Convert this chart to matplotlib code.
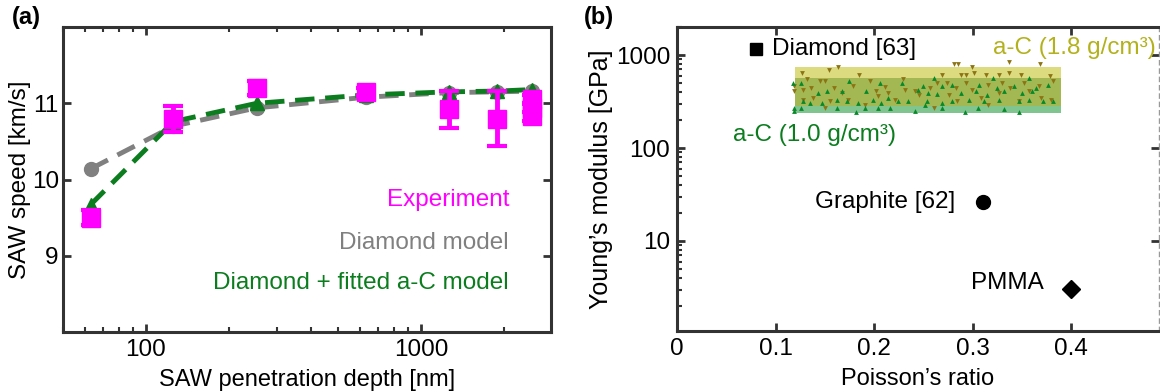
import numpy as np
import matplotlib
matplotlib.use("Agg")
from matplotlib import pyplot as plt

plt.rcParams['font.family'] = ['Liberation Sans', 'DejaVu Sans']
plt.rcParams['font.size'] = 16

# ---- panel (a): SAW speed vs penetration depth ----
depth = [63, 126, 253, 632, 1265, 1897, 2530]
v_diamond = [10.14, 10.70, 10.94, 11.08, 11.14, 11.15, 11.16]
v_fitted = [9.67, 10.76, 11.00, 11.11, 11.15, 11.16, 11.18]

exp_depth = [63, 126, 253, 632, 1265, 1897, 2530, 2530, 2530]
exp_speed = [9.50, 10.80, 11.20, 11.15, 10.92, 10.80, 11.05, 10.94, 10.83]
exp_err = [0.10, 0.17, 0.09, 0.05, 0.24, 0.36, 0.06, 0.06, 0.06]

# ---- panel (b): Young's modulus vs Poisson's ratio ----
ref_names = ['Diamond [63]', 'Graphite [62]', 'PMMA']
ref_nu = [0.08, 0.31, 0.40]
ref_E = [1150, 26, 3.05]
ref_markers = ['s', 'o', 'D']

band_nu = [0.12, 0.39]
band_hi = [282, 743]   # a-C 1.8 g/cm3 range of E
band_lo = [238, 566]   # a-C 1.0 g/cm3 range of E

# a-C 1.8 g/cm3 samples (down triangles)
hi_nu = [0.163, 0.154, 0.127, 0.185, 0.132, 0.145, 0.150, 0.119, 0.128, 0.136,
         0.159, 0.167, 0.179, 0.196, 0.202, 0.211, 0.214, 0.229, 0.231, 0.241,
         0.128, 0.138, 0.155, 0.174, 0.191, 0.204, 0.150, 0.221, 0.246, 0.119,
         0.281, 0.285, 0.299, 0.337, 0.368, 0.301, 0.288, 0.293, 0.314, 0.327,
         0.337, 0.349, 0.378, 0.269, 0.264, 0.274, 0.283, 0.293, 0.299, 0.316,
         0.330, 0.338, 0.352, 0.367, 0.381, 0.257, 0.276, 0.308, 0.327, 0.357,
         0.369, 0.379, 0.261, 0.316, 0.284, 0.347]
hi_E = [738, 684, 641, 605, 557, 521, 521, 460, 424, 442,
        442, 391, 460, 521, 407, 449, 391, 557, 424, 407,
        331, 345, 318, 331, 292, 360, 269, 331, 375, 407,
        800, 800, 738, 841, 800, 641, 605, 605, 615, 605,
        641, 605, 590, 605, 500, 500, 442, 500, 424, 480,
        500, 442, 500, 460, 521, 442, 375, 345, 391, 407,
        345, 331, 269, 292, 318, 318]

# a-C 1.0 g/cm3 samples (up triangles)
lo_nu = [0.118, 0.126, 0.175, 0.206, 0.228, 0.143, 0.152, 0.167, 0.192, 0.128,
         0.135, 0.147, 0.162, 0.172, 0.184, 0.199, 0.207, 0.214, 0.224, 0.234,
         0.119, 0.126, 0.162, 0.191, 0.204, 0.216, 0.119, 0.182, 0.241, 0.245,
         0.261, 0.321, 0.357, 0.250, 0.269, 0.279, 0.306, 0.325, 0.342, 0.364,
         0.376, 0.255, 0.264, 0.288, 0.303, 0.315, 0.332, 0.350, 0.360, 0.254,
         0.269, 0.279, 0.296, 0.311, 0.327, 0.347, 0.357, 0.371, 0.382, 0.269,
         0.292, 0.305, 0.332, 0.347, 0.252]
lo_E = [500, 500, 530, 500, 500, 391, 407, 407, 407, 318,
        305, 305, 331, 318, 305, 331, 305, 345, 318, 318,
        269, 269, 269, 269, 269, 269, 248, 244, 252, 424,
        566, 566, 566, 460, 460, 480, 480, 442, 460, 442,
        480, 391, 381, 391, 407, 375, 407, 391, 407, 318,
        305, 318, 331, 318, 331, 318, 331, 318, 318, 269,
        244, 269, 265, 244, 292]

MAGENTA = '#ff00ff'
GRAY = '#808080'
GREEN = '#0b7d1e'
OLIVE = '#b3b11c'
SPINE = '#333333'


def style_axes(ax):
    for s in ax.spines.values():
        s.set_linewidth(2.2)
        s.set_color(SPINE)
    ax.tick_params(which='both', direction='in', top=True, right=True,
                   color=SPINE, labelsize=17.5, pad=5)
    ax.tick_params(which='major', length=6, width=2)
    ax.tick_params(which='minor', length=3.5, width=1.5)


fig = plt.figure(figsize=(11.6, 3.92), dpi=100)

# ---------- (a) ----------
ax1 = fig.add_axes([0.0543, 0.153, 0.4207, 0.778])
ax1.plot(depth, v_diamond, color=GRAY, lw=3.5, dashes=(4, 2.2),
         marker='o', ms=10, zorder=2)
ax1.plot(depth, v_fitted, color=GREEN, lw=3.5, dashes=(4, 2.2),
         marker='^', ms=10, zorder=3)
ax1.errorbar(exp_depth, exp_speed, yerr=exp_err, fmt='s', color=MAGENTA,
             ms=12.5, elinewidth=3.5, capsize=7, capthick=3, zorder=4)
ax1.set_xscale('log')
ax1.set_xlim(50, 2970)
ax1.set_ylim(8, 12)
ax1.set_yticks([9, 10, 11])
ax1.set_xticks([100, 1000])
ax1.set_xticklabels(['100', '1000'])
ax1.set_xlabel('SAW penetration depth [nm]', fontsize=17, labelpad=6)
ax1.set_ylabel('SAW speed [km/s]', fontsize=17.5)
ax1.yaxis.set_label_coords(-0.066, 0.5)
style_axes(ax1)
ax1.tick_params(axis='y', which='minor', left=False, right=False)
ax1.tick_params(axis='y', pad=3)

ax1.text(0.914, 0.433, 'Experiment', color=MAGENTA, ha='right', va='center',
         fontsize=17.5, transform=ax1.transAxes)
ax1.text(0.914, 0.292, 'Diamond model', color=GRAY, ha='right', va='center',
         fontsize=17.5, transform=ax1.transAxes)
ax1.text(0.914, 0.160, 'Diamond + fitted a-C model', color=GREEN, ha='right',
         va='center', fontsize=17.5, transform=ax1.transAxes)
fig.text(0.010, 0.955, '(a)', fontsize=17, fontweight='bold', va='center')

# ---------- (b) ----------
ax2 = fig.add_axes([0.5836, 0.156, 0.4155, 0.775])
ax2.set_yscale('log')
ax2.set_xlim(0, 0.489)
ax2.set_ylim(1.08, 2000)

overlap_lo = max(band_hi[0], band_lo[0])
overlap_hi = min(band_hi[1], band_lo[1])
ax2.fill_between(band_nu, overlap_hi, band_hi[1], color='#dcdb80', lw=0, zorder=1)
ax2.fill_between(band_nu, overlap_lo, overlap_hi, color='#a3b852', lw=0, zorder=1)
ax2.fill_between(band_nu, band_lo[0], overlap_lo, color='#80c48f', lw=0, zorder=1)
ax2.scatter(hi_nu, hi_E, marker='v', s=12, color='#8c7414', lw=0, zorder=2)
ax2.scatter(lo_nu, lo_E, marker='^', s=12, color='#08892a', lw=0, zorder=3)

marker_sizes = {'s': 9, 'o': 10, 'D': 9}
for nu, E, m in zip(ref_nu, ref_E, ref_markers):
    ax2.plot(nu, E, marker=m, color='black', ms=marker_sizes[m],
             ls='none', zorder=4)

ax2.text(0.096, ref_E[0], ref_names[0], ha='left', va='center', fontsize=17.5)
ax2.text(0.282, ref_E[1], ref_names[1], ha='right', va='center', fontsize=17.5)
ax2.text(0.372, 3.5, ref_names[2], ha='right', va='center', fontsize=17.5)
ax2.text(0.486, 1190, 'a-C (1.8 g/cm³)', color=OLIVE, ha='right', va='center',
         fontsize=17.5)
ax2.text(0.057, 138, 'a-C (1.0 g/cm³)', color=GREEN, ha='left', va='center',
         fontsize=17.5)

ax2.set_xticks([0, 0.1, 0.2, 0.3, 0.4])
ax2.set_xticklabels(['0', '0.1', '0.2', '0.3', '0.4'])
ax2.set_yticks([10, 100, 1000])
ax2.set_yticklabels(['10', '100', '1000'])
ax2.set_xlabel('Poisson\u2019s ratio', fontsize=17, labelpad=6)
ax2.set_ylabel('Young\u2019s modulus [GPa]', fontsize=18, labelpad=2)
style_axes(ax2)
ax2.tick_params(axis='y', which='minor', right=False)
ax2.spines['right'].set_linestyle((0, (3, 3)))
ax2.spines['right'].set_color('#999999')
ax2.spines['right'].set_linewidth(1)
fig.text(0.503, 0.955, '(b)', fontsize=17, fontweight='bold', va='center')

fig.savefig('out.png', dpi=100)
